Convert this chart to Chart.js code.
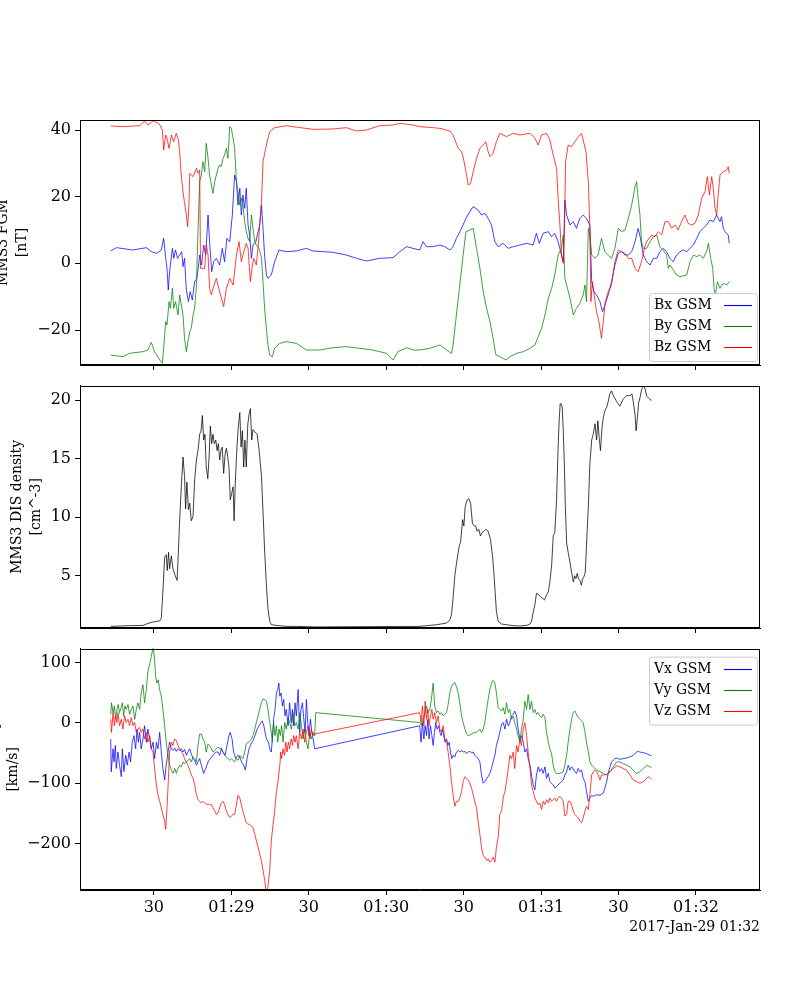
<!DOCTYPE html>
<html>
<head>
<meta charset="utf-8">
<script src="https://cdn.jsdelivr.net/npm/chart.js@4.4.1/dist/chart.umd.min.js"></script>
<style>
  html, body { margin: 0; padding: 0; background: #fff; }
  #page { position: relative; width: 800px; height: 1000px; }
  .panel { position: absolute; left: 0; width: 800px; }
</style>
</head>
<body>
<div id="page">
  <div class="panel" style="top:100px;height:290px"><canvas id="fgm"></canvas></div>
  <div class="panel" style="top:372px;height:281px"><canvas id="dens"></canvas></div>
  <div class="panel" style="top:635px;height:315px"><canvas id="vel"></canvas></div>
</div>
<script>
// time axis: seconds after 2017-01-29 01:28:00
const xTicks = [30, 60, 90, 120, 150, 180, 210, 240];
const xTickLabels = ['30', '01:29', '30', '01:30', '30', '01:31', '30', '01:32'];
const dateLabel = '2017-Jan-29 01:32';

const fgmLabels = ['Bx GSM', 'By GSM', 'Bz GSM'];
const velLabels = ['Vx GSM', 'Vy GSM', 'Vz GSM'];
const xyzColors = ['#0000ff', '#008000', '#ff0000'];

// MMS3 FGM B (GSM), nT
const bxT = [13.3,15.5,21.9,27.1,29.0,31.0,32.9,33.8,34.6,35.1,35.6,36.1,37.2,37.7,38.4,39.2,40.0,40.8,41.3,41.9,42.6,43.4,44.1,44.9,45.8,46.7,47.8,48.5,49.3,50.1,51.0,51.6,52.4,53.2,54.2,55.5,56.5,57.4,58.3,59.4,60.4,61.3,62.0,62.6,63.3,63.9,64.5,65.2,65.8,66.5,67.1,67.8,68.4,69.5,70.4,71.0,71.7,72.3,72.9,73.6,74.2,75.5,76.8,78.5,81.3,85.2,89.1,91.7,99.4,104.6,108.5,112.4,117.5,122.7,125.3,127.9,130.4,
  133.0,134.3,135.6,138.2,140.8,142.7,144.7,145.9,147.2,149.2,150.9,152.4,153.7,155.6,156.9,158.2,159.5,160.8,162.1,163.4,165.3,167.3,169.2,171.8,174.4,176.9,178.2,179.3,180.8,182.8,184.1,185.3,186.6,187.9,188.6,189.2,189.9,191.2,192.5,193.7,195.0,196.3,197.6,198.9,199.6,200.5,201.5,202.8,203.8,204.7,206.0,207.3,208.6,209.9,211.2,212.5,213.8,215.1,216.4,217.6,218.5,219.6,220.9,222.2,223.5,224.8,226.0,227.3,228.6,229.9,231.2,232.5,233.8,235.1,236.4,237.7,239.0,240.3,241.5,242.8,244.1,245.4,246.7,248.0,249.3,249.9,250.6,251.2,252.5,252.9];
const bxV = [3.7,4.7,4.0,4.7,3.5,3.0,4.0,7.5,1.5,-1.5,-8.0,-2.5,4.5,1.5,4.0,1.5,2.5,3.5,-1.0,1.5,-8.0,-11.5,-8.5,-11.0,-5.5,-4.5,2.5,-0.5,5.5,2.5,14.5,6.5,-2.5,0.5,1.5,-0.5,4.5,0.5,7.5,6.5,14.5,26.5,24.5,17.5,22.5,14.5,20.5,16.5,22.5,11.5,8.5,1.5,5.5,6.5,9.5,11.5,17.5,10.5,2.5,-3.5,-4.5,-3.5,0.5,4.0,3.5,3.7,4.5,3.7,3.3,2.5,1.5,0.7,1.5,1.7,3.5,5.0,4.5,
  4.0,6.5,5.0,5.0,5.5,5.0,4.0,5.0,7.5,10.5,13.5,15.5,17.0,16.0,14.5,15.0,13.5,11.5,6.5,5.0,6.0,4.5,5.0,5.5,6.0,5.5,9.0,6.0,9.0,9.5,8.0,9.0,6.5,2.5,0.5,19.0,14.5,11.5,12.5,10.5,13.5,14.5,13.5,11.5,-5.5,-8.5,-9.5,-11.5,-14.5,-12.5,-9.5,-5.5,-0.5,3.0,3.5,2.5,2.5,3.5,6.5,10.5,7.5,2.5,0.5,-0.5,1.5,1.5,3.5,4.5,3.5,1.5,0.5,2.5,3.5,4.0,3.5,4.5,5.5,7.5,9.5,10.5,11.5,13.0,12.5,14.5,12.5,14.0,10.5,9.5,8.5,6.0];

const byT = [13.3,18.0,20.6,25.8,27.7,29.0,30.3,32.3,33.3,33.8,34.6,35.1,35.9,36.4,37.2,37.7,38.4,39.4,40.0,40.65,41.3,41.9,42.6,43.2,43.9,44.5,45.2,45.8,46.5,47.1,47.75,48.4,49.0,49.7,50.3,51.0,51.6,52.3,52.9,53.6,54.2,54.9,55.5,56.1,56.8,57.4,58.1,58.7,59.4,60.0,60.7,61.3,62.0,62.6,63.3,63.9,64.5,65.2,65.8,66.5,67.1,67.8,68.4,69.1,69.7,70.8,71.7,72.3,72.9,73.6,74.2,74.9,75.9,76.8,78.8,81.3,85.2,89.1,94.3,99.4,104.6,109.8,114.9,120.1,122.7,124.6,127.9,130.4,
  133.0,136.9,140.8,143.4,145.3,145.9,147.2,148.5,149.8,150.9,152.4,153.7,155.0,156.3,157.6,158.9,160.2,161.4,162.5,164.0,166.4,167.9,170.5,173.1,175.7,177.6,178.9,180.2,181.5,182.8,184.1,185.3,186.6,187.9,188.6,189.2,189.9,191.2,192.5,193.7,195.0,196.3,197.0,197.6,198.3,198.9,199.6,200.9,202.1,203.4,204.7,206.0,207.3,208.6,209.9,211.2,212.5,213.8,215.1,216.4,217.0,217.6,218.3,218.9,219.6,220.9,222.2,223.5,224.8,226.0,227.3,228.6,229.3,229.9,231.2,232.5,233.8,236.4,237.7,239.0,240.3,241.5,242.8,244.1,244.8,245.7,246.5,247.0,247.5,248.3,249.3,250.6,251.9,252.9];
const byV = [-27.5,-28.0,-27.0,-26.5,-26.0,-23.7,-26.5,-29.0,-30.0,-25.5,-17.5,-18.5,-11.5,-13.5,-7.5,-13.5,-11.5,-15.5,-9.5,-12.5,-15.5,-22.5,-26.5,-23.5,-20.5,-19.5,-15.5,-13.5,-6.5,9.5,24.5,26.5,30.5,27.5,36.0,31.5,26.5,23.5,21.0,24.5,26.5,28.5,29.5,29.0,31.5,32.5,34.5,31.5,41.0,40.5,37.5,34.5,24.5,21.5,17.5,19.5,17.5,12.5,9.5,7.5,6.5,14.5,10.5,6.5,5.5,4.5,1.5,-5.5,-13.5,-19.5,-24.5,-27.5,-28.0,-25.5,-24.0,-23.5,-24.0,-26.0,-26.0,-25.3,-25.0,-25.5,-26.0,-27.0,-29.0,-26.5,-25.3,-26.0,
  -26.0,-25.5,-24.5,-26.0,-27.0,-24.5,-15.5,-6.5,2.5,9.5,10.0,10.5,4.5,-1.5,-8.5,-13.5,-17.5,-22.5,-27.5,-28.0,-29.0,-28.0,-27.0,-26.5,-25.5,-24.5,-22.0,-19.5,-15.5,-10.5,-7.5,-3.5,2.5,4.5,8.5,-4.5,-6.5,-10.5,-15.5,-13.5,-12.0,-9.5,-6.5,-11.5,10.5,8.5,2.5,1.5,2.5,7.5,3.5,2.5,1.5,4.5,10.5,9.5,10.0,13.5,17.5,23.0,24.5,19.5,14.5,6.5,4.5,4.5,6.5,8.0,8.5,5.0,4.0,2.5,-1.5,-0.5,-2.0,-3.5,-4.0,-3.5,0.5,2.5,2.0,2.5,1.5,3.5,6.0,1.5,-1.5,-7.5,-9.5,-5.5,-7.5,-6.0,-6.5,-5.5];

const bzT = [13.3,18.0,24.5,26.4,27.7,29.9,32.2,33.3,33.8,34.6,35.1,35.9,36.8,37.7,38.7,39.5,40.0,40.6,41.3,41.9,42.6,43.1,43.6,43.9,45.2,46.5,47.1,47.75,48.1,49.7,50.3,51.0,51.6,52.3,52.9,54.2,55.5,57.05,58.1,59.4,60.7,61.3,62.0,63.0,63.9,64.5,65.8,66.5,67.4,68.2,68.7,69.7,70.4,71.0,71.7,72.3,73.6,74.9,76.8,81.3,83.9,91.7,99.4,104.6,108.5,112.4,117.5,122.7,125.3,130.4,
  133.0,138.2,140.8,144.7,145.9,147.9,149.2,149.8,150.9,151.8,152.7,153.7,155.0,156.3,157.6,158.6,159.5,160.2,161.4,162.7,164.0,166.6,169.2,171.8,175.7,177.6,178.9,180.2,182.1,183.4,184.7,186.0,186.6,187.3,187.9,188.6,189.0,189.5,190.5,191.8,193.1,195.0,195.7,196.3,197.4,198.3,198.9,199.3,199.9,200.9,201.5,202.4,203.4,204.1,204.9,206.0,207.3,208.6,209.9,211.2,212.5,213.8,215.1,216.4,217.6,218.9,220.2,220.9,222.8,224.1,225.4,226.7,228.0,229.3,230.6,231.9,233.1,234.4,235.7,237.0,238.3,239.6,240.9,242.2,243.5,244.4,245.2,246.1,246.7,247.4,248.0,248.6,249.3,250.6,251.9,252.5,252.9];
const bzV = [41.2,41.0,41.3,42.7,41.5,42.8,41.7,40.0,34.0,38.5,37.5,34.5,38.5,36.5,39.0,37.0,33.5,26.5,21.5,18.0,14.5,11.0,17.5,27.0,26.0,28.5,27.0,28.0,-1.5,-1.5,5.5,2.5,-7.5,-9.5,-7.5,-4.5,-8.5,-13.0,-7.5,-4.5,-6.5,-2.5,2.5,6.5,0.5,2.5,6.0,4.5,-5.5,-0.5,1.5,-0.5,5.0,11.5,18.5,30.5,35.5,39.5,40.7,41.3,41.0,40.2,40.3,40.7,39.7,40.0,41.3,41.5,42.0,41.5,
  41.0,40.7,40.5,39.7,38.5,34.5,33.5,32.0,27.5,23.5,24.0,27.5,31.5,34.5,35.5,36.5,33.5,32.0,33.0,36.5,39.0,38.0,39.0,38.5,39.0,37.5,35.5,38.5,39.0,37.0,32.5,28.5,19.5,11.5,2.5,0.0,8.0,30.5,35.5,35.0,36.5,38.5,39.0,37.0,33.5,24.5,10.5,-11.5,-5.5,-11.5,-14.5,-17.5,-22.5,-17.5,-11.5,-8.5,-6.5,0.5,4.0,3.5,3.0,1.5,1.5,-1.5,-2.5,0.5,5.0,6.5,8.5,8.0,9.5,8.5,12.5,12.5,10.5,11.5,10.0,12.5,14.5,12.0,11.5,12.0,14.5,19.5,21.5,26.0,20.5,26.0,22.5,16.5,14.5,20.5,26.5,27.5,28.0,29.0,27.0];

// MMS3 DIS density, cm^-3
const densT = [13.3,20.6,25.8,27.1,29.0,31.0,32.3,32.9,33.5,34.2,34.8,35.2,35.7,36.1,36.8,37.4,38.3,39.0,39.5,40.0,40.65,41.3,41.9,42.3,42.8,43.4,43.9,44.5,45.2,45.8,46.5,47.1,47.75,48.3,48.8,49.3,49.8,50.3,50.9,51.4,51.9,52.4,52.9,53.4,54.0,54.5,55.0,55.5,56.0,56.5,57.05,57.6,58.1,58.6,59.1,59.6,60.2,60.7,61.1,61.6,62.2,62.7,63.3,63.8,64.3,64.8,65.3,65.8,66.4,66.9,67.4,67.9,68.4,69.1,70.0,70.8,71.7,72.3,72.95,73.6,74.2,74.9,75.5,77.5,81.3,85.2,91.7,
  133.0,139.5,143.4,144.65,145.3,145.9,146.6,147.2,148.3,148.8,149.6,150.1,150.6,151.4,152.0,152.7,153.4,154.1,154.7,155.2,155.9,156.5,157.2,157.8,158.6,159.5,160.4,161.2,161.7,162.2,162.7,163.4,164.7,166.6,169.2,171.8,174.4,175.7,176.3,177.0,177.6,178.2,179.0,179.8,180.6,181.3,182.1,182.8,183.4,184.1,184.7,185.3,186.0,186.6,187.0,187.4,187.8,188.2,188.6,189.0,189.4,189.9,190.5,191.2,191.8,192.5,193.0,193.5,194.0,194.5,195.0,195.6,196.1,196.6,197.1,197.6,198.3,198.9,199.6,200.2,200.9,201.5,202.0,202.5,203.0,203.6,204.1,204.7,205.4,206.0,206.7,207.3,208.0,209.25,210.5,211.8,213.1,214.4,215.2,215.7,216.4,216.8,217.3,217.8,218.3,218.9,219.6,220.2,220.9,221.6,222.2,222.8];
const densV = [0.67,0.73,0.75,0.87,1.01,1.09,1.15,1.37,3.6,6.6,6.8,5.45,7.0,5.6,6.7,5.6,5.0,4.6,7.0,9.8,12.6,15.15,13.5,10.7,13.0,10.65,11.2,9.7,10.1,13.2,14.9,15.7,17.1,17.4,18.7,16.6,17.1,14.3,13.3,15.15,17.8,16.3,17.1,16.3,16.6,15.7,16.3,14.9,15.7,16.0,13.75,15.4,15.9,15.2,14.3,11.5,12.1,12.6,9.7,13.2,16.0,17.7,18.95,16.0,17.4,14.3,16.6,14.3,17.96,18.8,19.3,16.6,17.5,17.3,17.1,15.7,13.5,10.4,7.0,4.2,2.2,1.1,0.81,0.75,0.67,0.67,0.62,
  0.67,0.81,0.95,1.23,1.65,3.06,5.03,6.0,7.56,7.84,9.8,9.25,10.9,11.5,11.6,11.2,9.5,9.25,9.25,8.8,8.97,8.4,8.7,8.8,8.97,8.8,8.1,6.7,5.3,3.6,1.94,1.09,0.87,0.81,0.73,0.70,0.75,0.87,1.09,1.94,2.5,3.48,3.4,3.2,3.06,2.92,3.34,3.62,4.47,5.9,8.4,8.7,11.5,16.0,18.25,19.7,19.7,19.4,17.4,14.6,10.9,7.8,7.0,6.15,5.3,4.47,5.0,4.75,5.2,4.75,4.6,4.19,4.75,4.9,5.3,7.6,10.9,14.6,16.6,17.1,18.0,16.6,18.25,16.84,15.7,17.7,18.5,19.1,19.4,19.9,20.6,20.8,20.4,19.9,19.5,20.1,20.4,20.4,20.55,19.9,18.8,17.4,18.5,19.8,20.2,20.9,21.2,21.06,20.36,20.2,20.07,20.0];

// MMS3 DIS velocity (GSM), km/s
const vxT = [13.3,13.5,14.2,14.6,15.1,15.45,16.1,16.7,17.4,17.8,18.4,19.1,19.7,20.4,21.0,21.65,22.3,22.95,23.5,24.0,24.5,25.1,25.8,26.4,27.1,27.7,28.4,29.0,29.7,30.3,31.0,31.6,32.25,32.9,33.5,34.2,34.8,35.5,36.1,36.8,37.4,38.1,38.7,39.35,40.0,40.65,41.3,41.9,42.6,43.2,43.9,44.5,45.2,45.8,46.5,47.1,47.75,48.4,49.3,50.1,51.0,51.9,52.9,53.95,54.9,55.5,56.15,56.8,57.6,58.35,59.1,59.6,60.3,60.9,61.7,62.5,63.3,64.0,64.8,65.45,66.1,66.9,67.65,68.4,69.2,70.0,70.75,71.5,72.0,72.6,73.1,73.6,74.4,74.9,75.5,75.9,76.4,76.95,77.5,78.0,78.4,78.8,79.3,79.8,80.3,80.8,81.3,82.0,82.6,83.2,83.7,84.2,84.7,85.2,85.9,86.5,87.0,87.55,88.1,88.6,89.1,89.6,90.1,90.65,91.2,91.7,92.3,
  133.0,133.5,134.05,134.6,135.1,135.6,136.1,136.6,137.15,137.7,138.2,138.7,139.2,139.7,140.3,140.8,141.3,141.8,142.3,142.8,143.4,143.9,144.4,144.9,145.4,145.9,146.6,147.2,147.9,148.5,149.2,149.8,150.5,151.1,151.75,152.4,153.05,153.7,154.3,155.0,155.6,156.3,156.9,157.6,158.2,158.9,159.5,160.15,160.8,161.4,162.1,162.7,163.4,164.0,164.7,165.3,166.0,166.6,167.3,167.9,168.55,169.2,169.8,170.5,171.1,171.8,172.4,173.1,173.7,174.4,175.0,175.7,176.3,176.95,177.6,178.2,178.9,179.5,180.2,180.8,181.5,182.1,182.8,183.4,184.05,184.7,185.35,186.0,186.6,187.3,187.9,188.6,189.2,189.9,190.5,191.2,191.8,192.45,193.1,193.7,194.4,195.0,195.7,196.3,197.0,197.6,198.3,198.9,199.6,200.2,201.5,202.8,204.1,204.7,205.4,206.0,206.7,207.3,207.96,208.6,209.25,210.5,211.8,213.1,214.4,215.7,217.0,217.65,218.3,219.6,220.9,222.2,222.8];
const vxV = [-26.7,-81.0,-43.0,-64.7,-37.5,-75.6,-48.4,-70.1,-89.2,-43.0,-81.0,-53.8,-70.1,-48.4,-64.7,-32.1,-21.2,-43.0,-10.4,-32.1,-15.8,-43.0,-26.7,-4.9,-32.1,-10.4,-26.7,-43.0,-32.1,-59.3,-32.1,-43.0,-15.8,-48.4,-75.6,-94.6,-70.1,-48.4,-32.1,-43.0,-45.7,-41.9,-47.3,-43.0,-45.7,-43.0,-48.4,-44.0,-53.8,-48.4,-43.0,-51.1,-59.3,-62.0,-70.1,-64.7,-59.3,-70.1,-83.7,-75.6,-64.7,-59.3,-53.8,-48.4,-48.4,-53.8,-43.0,-48.4,-53.8,-37.5,-21.2,-15.8,-26.7,-48.4,-59.3,-53.8,-56.6,-64.7,-70.1,-78.3,-59.3,-43.0,-34.8,-29.4,-21.2,-10.4,-4.9,0.5,3.2,-4.9,-15.8,-26.7,-32.1,-43.0,-48.4,-26.7,5.9,22.2,49.4,54.9,65.7,44.0,49.4,27.7,38.6,11.4,22.2,-4.9,33.1,0.5,22.2,-4.9,33.1,11.4,54.9,-15.8,22.2,33.1,5.9,-15.8,38.6,0.5,-21.2,5.9,-15.8,-26.7,-43.0,
  -4.9,-32.1,0.5,-26.7,-4.9,-21.2,5.9,-26.7,-4.9,-21.2,-37.5,-15.8,0.5,-10.4,-4.9,-15.8,-21.2,-10.4,-21.2,-32.1,-26.7,-37.5,-32.1,-48.4,-59.3,-53.8,-56.6,-48.4,-45.7,-48.4,-45.7,-48.4,-47.3,-51.1,-48.4,-47.3,-49.5,-48.4,-53.8,-56.6,-59.3,-64.7,-86.4,-100.0,-97.3,-91.9,-89.2,-83.7,-75.6,-64.7,-53.8,-37.5,-26.7,-15.8,-2.2,0.5,-10.4,5.9,-4.9,0.5,11.4,14.1,19.5,11.4,-10.4,-26.7,-21.2,-32.1,-48.4,-43.0,-59.3,-70.1,-86.4,-102.8,-110.9,-86.4,-72.9,-81.0,-75.6,-83.7,-72.9,-91.9,-83.7,-97.3,-100.0,-102.8,-108.2,-105.5,-102.8,-100.0,-97.3,-94.6,-86.4,-81.0,-70.1,-78.3,-72.9,-75.6,-81.0,-83.7,-75.6,-81.0,-78.3,-91.9,-97.3,-113.6,-129.9,-124.5,-120.1,-121.8,-119.1,-120.1,-116.3,-108.2,-97.3,-83.7,-72.9,-64.7,-62.0,-59.3,-58.2,-60.4,-59.3,-58.2,-56.6,-53.8,-48.4,-47.3,-48.4,-49.5,-51.1,-53.8,-53.8];

const vyT = [13.3,13.6,14.2,14.7,15.2,15.7,16.2,16.7,17.3,17.8,18.3,18.8,19.3,20.0,20.6,21.3,21.9,22.6,23.2,23.85,24.5,25.1,25.8,26.4,27.1,27.7,28.4,29.0,29.7,30.2,30.7,31.2,31.7,32.25,32.9,33.5,34.2,34.8,35.5,36.1,36.8,37.4,38.1,38.7,39.35,40.0,40.65,41.3,41.9,42.6,43.2,43.9,44.5,45.2,45.8,46.5,47.1,47.75,48.4,49.0,49.7,50.3,51.0,51.6,52.3,52.9,53.6,54.2,54.9,55.5,56.15,56.8,57.4,58.1,58.7,59.4,60.0,60.7,61.3,62.0,62.6,63.3,63.9,64.5,65.2,65.8,66.5,67.1,67.8,68.4,69.1,69.7,70.4,71.0,71.65,72.3,72.95,73.6,74.2,74.9,75.5,75.9,76.4,76.95,77.5,78.0,78.5,79.0,79.5,80.05,80.7,81.3,82.0,82.6,83.3,83.9,84.6,85.2,85.9,86.5,87.2,87.8,88.45,89.1,89.7,90.4,91.0,91.7,92.3,92.7,
  133.0,133.7,134.3,134.96,135.6,136.25,136.9,137.5,138.2,138.8,139.5,140.1,140.8,141.4,142.1,142.7,143.4,144.0,144.65,145.3,145.9,146.6,147.2,147.9,148.5,149.2,149.8,150.5,151.1,151.75,152.4,153.05,153.7,154.3,155.0,155.6,156.3,156.9,157.6,158.2,158.9,159.5,160.15,160.8,161.4,162.1,162.7,163.4,164.0,164.7,165.3,166.0,166.6,167.3,167.9,168.55,169.2,169.8,170.5,171.1,171.8,172.4,173.1,173.7,174.4,175.0,175.7,176.3,176.95,177.6,178.2,178.9,179.5,180.2,180.8,181.5,182.1,182.8,183.4,184.05,184.7,185.35,186.0,187.3,188.6,189.2,189.9,190.5,191.2,191.8,192.45,193.1,193.7,194.4,195.0,195.7,196.3,197.0,197.6,198.3,198.9,199.6,200.2,201.5,202.8,204.1,205.4,206.7,207.96,209.25,210.5,211.8,213.1,214.4,215.7,217.0,218.3,219.6,220.9,222.2,222.8];
const vyV = [14.1,33.1,16.8,27.7,5.9,22.2,30.4,16.8,25.0,33.1,11.4,27.7,22.2,30.4,14.1,22.2,27.7,5.9,22.2,33.1,22.2,49.4,63.0,33.1,54.9,84.8,98.3,109.2,125,109.2,76.6,65.7,71.2,54.9,44.0,22.2,-4.9,-32.1,-53.8,-70.1,-78.3,-83.7,-75.6,-83.7,-75.6,-70.1,-72.9,-64.7,-67.4,-64.7,-62.0,-59.3,-64.7,-56.6,-59.3,-64.7,-37.5,-18.5,-18.5,-26.7,-32.1,-48.4,-34.8,-37.5,-43.0,-48.4,-45.7,-43.0,-40.2,-43.0,-41.9,-48.4,-53.8,-56.6,-59.3,-62.0,-59.3,-62.0,-64.7,-59.3,-62.0,-53.8,-56.6,-59.3,-48.4,-34.8,-32.1,-31.0,-26.7,-21.2,-10.4,0.5,11.4,22.2,33.1,39.6,38.6,35.8,22.2,0.5,-15.8,-32.1,0.5,-21.2,-4.9,-32.1,-10.4,-21.2,-4.9,-32.1,0.5,-10.4,8.7,0.5,-10.4,16.8,-4.9,0.5,-10.4,16.8,-4.9,-26.7,-10.4,-32.1,-43.0,-15.8,-26.7,-15.8,-21.2,16.8,
  0.5,-4.9,8.7,14.1,27.7,16.8,22.2,38.6,65.7,27.7,16.8,19.5,14.1,16.8,11.4,14.1,16.8,30.4,49.4,60.3,64.6,66.8,60.3,49.4,33.1,11.4,0.5,-10.4,-18.5,-21.2,-20.1,-18.5,-16.9,-15.8,-15.8,-13.1,-10.4,-15.8,-10.4,0.5,22.2,38.6,54.9,65.7,70.1,65.7,49.4,25.0,22.2,19.5,25.0,14.1,33.1,16.8,22.2,5.9,11.4,0.5,-10.4,-21.2,-32.1,-10.4,5.9,35.8,22.2,46.7,22.2,35.8,16.8,22.2,14.1,16.8,11.4,8.7,14.1,8.7,-15.8,-32.1,-43.0,-51.1,-70.1,-81.0,-83.7,-83.7,-81.0,-70.1,-53.8,-32.1,-10.4,5.9,16.8,19.5,14.1,8.7,5.9,3.2,0.5,-15.8,-32.1,-48.4,-64.7,-70.1,-72.9,-78.3,-81.0,-83.7,-86.4,-81.0,-72.9,-64.7,-64.7,-67.4,-70.1,-72.9,-78.3,-83.7,-81.0,-75.6,-70.1,-72.9,-74.5];

const vzT = [13.3,13.6,14.2,14.7,15.2,15.7,16.1,16.7,17.4,18.0,18.7,19.3,20.0,20.6,21.3,21.9,22.6,23.2,23.85,24.5,25.1,25.8,26.4,27.1,27.7,28.4,29.0,29.7,30.3,31.0,31.6,32.25,32.9,33.5,34.2,34.6,35.1,35.6,36.1,36.8,37.4,38.1,38.7,39.35,40.0,40.65,41.3,41.9,42.6,43.2,43.9,44.5,45.2,45.8,46.5,47.1,47.75,48.4,49.0,49.7,50.3,51.0,51.6,52.3,52.9,53.6,54.2,54.9,55.5,56.15,56.8,57.4,58.1,58.7,59.4,60.0,60.7,61.3,62.0,62.6,63.3,63.9,64.5,65.2,65.8,66.5,67.1,67.8,68.4,69.1,69.7,70.4,71.0,71.65,72.3,72.95,73.6,74.2,74.9,75.5,76.2,76.8,77.5,78.1,78.8,79.15,79.5,80.05,80.6,81.1,81.6,82.1,82.6,83.2,83.7,84.2,84.7,85.2,85.9,86.5,87.2,87.8,88.45,89.1,89.7,90.4,91.0,91.7,92.3,
  133.0,133.5,134.05,134.6,135.1,135.6,136.1,136.6,137.15,137.7,138.2,138.8,139.5,140.1,140.8,141.4,142.1,142.7,143.4,144.0,144.65,145.3,145.9,146.6,147.2,147.9,148.5,149.2,149.8,150.5,151.1,151.75,152.4,153.05,153.7,154.3,155.0,155.6,156.3,156.9,157.6,158.2,158.9,159.5,160.15,160.8,161.4,162.1,162.7,163.4,164.0,164.7,165.3,166.0,166.6,167.3,167.9,168.55,169.2,169.8,170.5,171.1,171.8,172.4,173.1,173.7,174.4,175.0,175.7,176.3,176.95,177.6,178.2,178.9,179.5,180.2,180.8,181.5,182.1,182.8,183.4,184.05,184.7,185.35,186.0,186.6,187.3,187.9,188.6,189.2,189.9,190.5,191.2,191.8,192.45,193.1,193.7,194.4,195.0,195.7,196.3,197.0,197.6,198.3,198.9,199.6,200.2,200.85,201.5,202.1,202.8,203.4,204.1,205.4,206.7,207.96,209.25,210.5,211.8,213.1,214.4,215.7,217.0,218.3,219.6,220.9,221.5,222.2,222.8];
const vzV = [5.9,-15.8,16.8,-4.9,11.4,0.5,16.8,-4.9,5.9,-10.4,11.4,0.5,5.9,-4.9,8.7,-4.9,0.5,-15.8,-10.4,-7.6,-15.8,-10.4,-26.7,-15.8,-32.1,-21.2,-43.0,-48.4,-75.6,-102.8,-119.1,-129.9,-140.8,-151.7,-162.5,-176.1,-140.8,-97.3,-48.4,-32.1,-37.5,-26.7,-29.4,-37.5,-43.0,-48.4,-51.1,-59.3,-64.7,-70.1,-78.3,-86.4,-91.9,-102.8,-119.1,-127.2,-129.9,-132.6,-129.9,-132.6,-135.4,-134.3,-135.4,-135.4,-140.8,-146.2,-151.7,-148.9,-140.8,-132.6,-129.9,-135.4,-146.2,-151.7,-157.1,-154.4,-151.7,-151.7,-135.4,-120.1,-124.5,-135.4,-146.2,-157.1,-165.3,-168.0,-168.0,-170.7,-173.4,-184.3,-195.2,-206.0,-216.9,-227.8,-244.1,-260.4,-285,-271.2,-244.1,-195.2,-168.0,-146.2,-113.6,-97.3,-70.1,-48.4,-59.3,-43.0,-53.8,-32.1,-48.4,-32.1,-43.0,-26.7,-37.5,-21.2,-32.1,-21.2,-43.0,-15.8,-26.7,-10.4,-32.1,-15.8,-4.9,-26.7,-10.4,-21.2,-18.5,
  16.8,0.5,27.7,-4.9,35.8,5.9,22.2,-4.9,11.4,22.2,5.9,16.8,0.5,11.4,-10.4,-15.8,-4.9,-26.7,-32.1,-48.4,-70.1,-97.3,-119.1,-138.1,-129.9,-129.9,-124.5,-113.6,-97.3,-89.2,-91.9,-94.6,-100.0,-108.2,-119.1,-129.9,-140.8,-162.5,-184.3,-206.0,-219.6,-222.3,-227.8,-225.0,-230.5,-227.8,-222.3,-230.5,-206.0,-189.8,-151.7,-146.2,-124.5,-113.6,-97.3,-75.6,-53.8,-59.3,-48.4,-75.6,-37.5,-48.4,-26.7,-37.5,-10.4,0.5,-21.2,-48.4,-75.6,-102.8,-113.6,-124.5,-129.9,-135.4,-132.6,-143.5,-129.9,-135.4,-127.2,-132.6,-124.5,-129.9,-127.2,-124.5,-129.9,-124.5,-121.8,-124.5,-129.9,-154.4,-151.7,-129.9,-129.9,-135.4,-146.2,-151.7,-154.4,-157.1,-162.5,-165.3,-157.1,-146.2,-138.1,-143.5,-119.1,-86.4,-81.0,-78.3,-81.0,-86.4,-94.6,-86.4,-86.4,-85.4,-81.0,-75.6,-71.2,-72.9,-75.6,-78.3,-86.4,-94.6,-97.3,-100.0,-97.3,-91.9,-89.2,-90.8,-93.5];

Chart.defaults.font.family = "'DejaVu Serif', serif";
Chart.defaults.color = '#000';

function pts(ts, vs) {
    return ts.map((t, i) => ({ x: t, y: vs[i] }));
}

function line(label, ts, vs, color, order) {
    return { label: label, data: pts(ts, vs), borderColor: color, backgroundColor: color,
             borderWidth: 0.75, pointRadius: 0, tension: 0, order: order };
}

function minusSign(v) {
    return v < 0 ? '\u2212' + Math.abs(v) : String(v);
}

// black box round the plot area, like the other three spines
const frame = {
    id: 'frame',
    afterDatasetsDraw(chart) {
        const { ctx, chartArea: a } = chart;
        ctx.save();
        ctx.strokeStyle = '#000';
        ctx.lineWidth = 1;
        ctx.strokeRect(Math.round(a.left) + 0.5, Math.round(a.top) + 0.5,
                       Math.round(a.right - a.left) - 1, Math.round(a.bottom - a.top) - 1);
        ctx.restore();
    }
};

// legend with the label first and the line sample after it
const boxLegend = {
    id: 'boxLegend',
    afterDraw(chart, args, o) {
        if (!o.show) return;
        const { ctx, chartArea: a } = chart;
        const rowH = 21, w = 108, h = o.labels.length * rowH + 5;
        const right = a.right - 3;
        const left = right - w;
        const top = o.corner === 'top' ? a.top + 8 : a.bottom - 4 - h;
        ctx.save();
        ctx.beginPath();
        ctx.roundRect(left + 0.5, top + 0.5, w, h, 3);
        ctx.fillStyle = 'rgba(255,255,255,0.8)';
        ctx.fill();
        ctx.strokeStyle = '#cccccc';
        ctx.lineWidth = 1;
        ctx.stroke();
        ctx.font = "14px 'DejaVu Serif'";
        ctx.textBaseline = 'middle';
        o.labels.forEach((lab, i) => {
            const cy = Math.round(top + 12 + i * rowH);
            ctx.fillStyle = '#000';
            ctx.fillText(lab, left + 5, cy);
            ctx.beginPath();
            ctx.strokeStyle = o.colors[i];
            ctx.lineWidth = 1.1;
            ctx.moveTo(right - 33, cy + 0.5);
            ctx.lineTo(right - 5, cy + 0.5);
            ctx.stroke();
        });
        ctx.restore();
    }
};

function panel(id, cfg) {
    const xAxis = {
        type: 'linear', min: 1.4, max: 264.8,
        afterBuildTicks: s => { s.ticks = xTicks.map(v => ({ value: v })); },
        afterFit: s => { s.height = cfg.xHeight; },
        ticks: { display: cfg.xLabels, autoSkip: false, maxRotation: 0, padding: 3,
                 font: { size: 16 }, callback: (v, i) => xTickLabels[i] },
        grid: { drawOnChartArea: false, drawTicks: true, tickLength: 5, tickColor: '#000' },
        border: { display: true, color: '#000', width: 1 }
    };
    if (cfg.xTitle) {
        xAxis.title = { display: true, text: cfg.xTitle, align: 'end',
                        font: { size: 14 }, padding: { top: 0, bottom: 14.6 } };
    }
    return new Chart(document.getElementById(id), {
        type: 'line',
        data: { datasets: cfg.datasets },
        options: {
            animation: false,
            responsive: true,
            maintainAspectRatio: false,
            layout: { padding: { left: 0, right: 40, top: cfg.top, bottom: 0 } },
            plugins: { legend: { display: false }, tooltip: { enabled: false },
                       boxLegend: cfg.legend || { show: false } },
            scales: {
                x: xAxis,
                y: {
                    type: 'linear', min: cfg.yMin, max: cfg.yMax,
                    afterBuildTicks: s => { s.ticks = cfg.yTicks.map(v => ({ value: v })); },
                    afterFit: s => { s.width = 80; },
                    ticks: { autoSkip: false, padding: 4, font: { size: 16 }, callback: minusSign },
                    grid: { drawOnChartArea: false, drawTicks: true, tickLength: 5, tickColor: '#000' },
                    border: { display: true, color: '#000', width: 1 },
                    title: { display: true, text: cfg.yTitle, font: { size: 14, lineHeight: 1.35 },
                             padding: { top: cfg.titlePad, bottom: 0 } }
                }
            }
        },
        plugins: [frame, boxLegend]
    });
}

panel('fgm', {
    top: 20, xHeight: 25, xLabels: false,
    yMin: -30.5, yMax: 43, yTicks: [-20, 0, 20, 40],
    yTitle: ['MMS3 FGM', '[nT]'], titlePad: -6,
    legend: { show: true, corner: 'bottom', labels: fgmLabels, colors: xyzColors },
    datasets: [
        line(fgmLabels[0], bxT, bxV, xyzColors[0], 3),
        line(fgmLabels[1], byT, byV, xyzColors[1], 2),
        line(fgmLabels[2], bzT, bzV, xyzColors[2], 1)
    ]
});

panel('dens', {
    top: 10, xHeight: 25, xLabels: false,
    yMin: 0.53, yMax: 21.26, yTicks: [5, 10, 15, 20],
    yTitle: ['MMS3 DIS density', '[cm^-3]'], titlePad: 8,
    datasets: [ line('density', densT, densV, '#000000', 1) ]
});

panel('vel', {
    top: 10, xHeight: 60, xLabels: true, xTitle: dateLabel,
    yMin: -276.7, yMax: 122.8, yTicks: [-200, -100, 0, 100],
    yTitle: ['MMS3 DIS velocity GSM', '[km/s]'], titlePad: -15,
    legend: { show: true, corner: 'top', labels: velLabels, colors: xyzColors },
    datasets: [
        line(velLabels[0], vxT, vxV, xyzColors[0], 3),
        line(velLabels[1], vyT, vyV, xyzColors[1], 2),
        line(velLabels[2], vzT, vzV, xyzColors[2], 1)
    ]
});
</script>
</body>
</html>
